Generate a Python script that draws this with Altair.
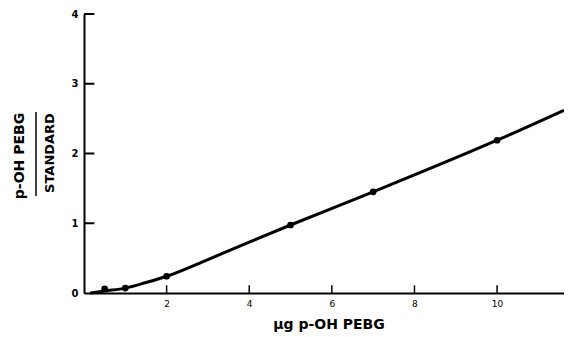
import altair as alt
import pandas as pd

# measured points
pt_x = [0.5, 1.0, 2.0, 5.0, 7.0, 10.0]
pt_y = [0.06, 0.07, 0.24, 0.975, 1.45, 2.19]

# fitted curve
curve_x = [0.15, 0.5, 1.0, 1.5, 2.0, 3.0, 4.0, 5.0, 7.0, 10.0, 11.62]
curve_y = [0.0, 0.03, 0.07, 0.15, 0.24, 0.48, 0.73, 0.975, 1.45, 2.19, 2.62]

x_ticks = [2, 4, 6, 8, 10]
y_ticks = [0, 1, 2, 3, 4]

X_MAX = 11.62
W, H = 480, 279
FONT = "DejaVu Sans"

pts = pd.DataFrame({"x": pt_x, "y": pt_y})
crv = pd.DataFrame({"x": curve_x, "y": curve_y})

xs = alt.Scale(domain=[0, X_MAX], nice=False, zero=False)
ys = alt.Scale(domain=[0, 4], nice=False)

xaxis = alt.Axis(values=x_ticks, title=None, grid=False, tickSize=0, labelPadding=6,
                 labelFontSize=9, labelColor="black", labelFont=FONT, domainColor="black",
                 domainWidth=2, format="d")
yaxis = alt.Axis(values=y_ticks, title=None, grid=False, tickSize=0, labelPadding=6,
                 labelFontSize=10, labelFontWeight="bold", labelColor="black", labelFont=FONT,
                 domainColor="black", domainWidth=2, format="d")

line = alt.Chart(crv).mark_line(color="black", strokeWidth=3, interpolate="monotone").encode(
    x=alt.X("x:Q", scale=xs, axis=xaxis),
    y=alt.Y("y:Q", scale=ys, axis=yaxis),
)
dots = alt.Chart(pts).mark_circle(color="black", size=45, opacity=1).encode(
    x=alt.X("x:Q", scale=xs), y=alt.Y("y:Q", scale=ys)
)

yt = pd.DataFrame({"v": y_ticks[1:]})
ytick = alt.Chart(yt).mark_rule(color="black", strokeWidth=2).encode(
    y=alt.Y("v:Q", scale=ys), x=alt.datum(0, scale=xs), x2=alt.datum(0.25)
)
xt = pd.DataFrame({"v": x_ticks})
xtick = alt.Chart(xt).mark_rule(color="black", strokeWidth=1.5).encode(
    x=alt.X("v:Q", scale=xs), y=alt.datum(0, scale=ys), y2=alt.datum(0.11)
)

xtitle = alt.Chart(pd.DataFrame({"t": ["µg  p-OH  PEBG"]})).mark_text(
    font=FONT, fontSize=14, fontWeight="bold", color="black"
).encode(text="t:N", x=alt.value(245), y=alt.value(311))

ynum = alt.Chart(pd.DataFrame({"t": ["p-OH PEBG"]})).mark_text(
    font=FONT, fontSize=14, fontWeight="bold", color="black", angle=270
).encode(text="t:N", x=alt.value(-64), y=alt.value(142))
yden = alt.Chart(pd.DataFrame({"t": ["STANDARD"]})).mark_text(
    font=FONT, fontSize=13, fontWeight="bold", color="black", angle=270
).encode(text="t:N", x=alt.value(-34), y=alt.value(139))
ybar = alt.Chart(pd.DataFrame({"a": [0]})).mark_rule(color="black", strokeWidth=1.5).encode(
    x=alt.value(-48), y=alt.value(98), y2=alt.value(182)
)

chart = alt.layer(line, dots, ytick, xtick, xtitle, ynum, yden, ybar).properties(
    width=W, height=H,
    background="white",
    autosize=alt.AutoSizeParams(type="none"),
    padding={"left": 76, "top": 6, "right": 0, "bottom": 44},
).configure_view(strokeWidth=0, stroke="transparent").configure_axis(grid=False)

chart.save("out.html", embed_options={"renderer": "svg", "actions": False})
